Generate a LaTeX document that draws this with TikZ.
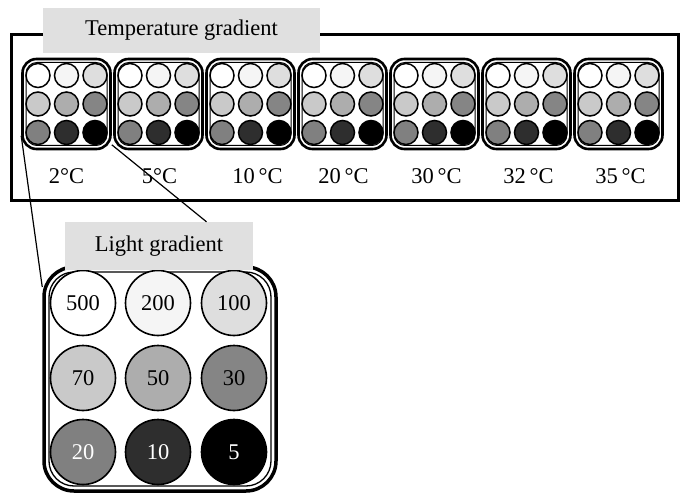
\documentclass[tikz,border=0pt]{standalone}
\usepackage{fontspec}
\setmainfont{Liberation Serif}

\definecolor{lbgray}{gray}{0.88}
\definecolor{l500}{gray}{1.00}
\definecolor{l200}{gray}{0.96}
\definecolor{l100}{gray}{0.87}
\definecolor{l70}{gray}{0.79}
\definecolor{l50}{gray}{0.68}
\definecolor{l30}{gray}{0.52}
\definecolor{l20}{gray}{0.50}
\definecolor{l10}{gray}{0.18}
\definecolor{l5}{gray}{0.00}

\begin{document}
\begin{tikzpicture}[x=1pt,y=-1pt,
    fs/.style={font=\fontsize{22.5}{27}\selectfont},
    plate/.style={draw, line width=2.6pt, rounded corners=14pt, minimum width=88pt, minimum height=90pt, inner sep=0pt},
    platein/.style={draw, line width=1pt, rounded corners=11pt, minimum width=81pt, minimum height=83pt, inner sep=0pt},
    well/.style={circle, draw, line width=1.5pt, minimum size=24pt, inner sep=0pt},
    bigwell/.style={circle, draw, line width=1.6pt, minimum size=65pt, inner sep=0pt},
    lbl/.style={fill=lbgray, inner sep=0pt}]

      \useasboundingbox (0,0) rectangle (688,497);

      % frame round the temperature series
      \node[draw, line width=3pt, minimum width=667pt, minimum height=166pt, inner sep=0pt] (frame) at (345,117.5) {};

      % one plate per temperature, nine wells each
      \foreach \i/\t/\dx in {1/{2°C}/0,2/{5°C}/1,3/{10\,°C}/7,4/{20\,°C}/1,5/{30\,°C}/2,6/{32\,°C}/2,7/{35\,°C}/2} {
        \node[plate] (plate\i) at ({66.5+92*(\i-1)},104) {};
        \node[platein] at (plate\i) {};
        \foreach \c/\r/\col in {0/0/l500,1/0/l200,2/0/l100,0/1/l70,1/1/l50,2/1/l30,0/2/l20,1/2/l10,2/2/l5}
          \node[well, fill=\col] (w\i\c\r) at ({38+92*(\i-1)+28.5*\c},{75.5+28.5*\r}) {};
        \node[fs] (t\i) at ({66.5+92*(\i-1)+\dx},176) {\t};
      }

      % enlarged plate
      \node[draw, line width=3.5pt, rounded corners=30pt, minimum width=232pt, minimum height=224pt, inner sep=0pt] (bigplate) at (160,379) {};
      \node[draw, line width=1.3pt, rounded corners=25pt, minimum width=222pt, minimum height=214pt, inner sep=0pt] at (bigplate) {};

      \begin{scope}[every node/.style={bigwell, fs}]
        \node[fill=l500]             (b00) at (83,303)  {500};
        \node[fill=l200]             (b10) at (158,303) {200};
        \node[fill=l100]             (b20) at (234,303) {100};
        \node[fill=l70]              (b01) at (83,378)  {70};
        \node[fill=l50]              (b11) at (158,378) {50};
        \node[fill=l30]              (b21) at (234,378) {30};
        \node[fill=l20, text=white]  (b02) at (83,452)  {20};
        \node[fill=l10, text=white]  (b12) at (158,452) {10};
        \node[fill=l5, text=white]   (b22) at (234,452) {5};
      \end{scope}

      % labels sit over the top borders
      \node[lbl, fs, minimum width=188pt, minimum height=48pt] (lightlbl) at (159,246) {\raisebox{2pt}{Light gradient}};
      \node[lbl, fs, minimum width=277pt, minimum height=45pt] (templbl) at (181.5,30.5) {Temperature gradient};

      % zoom lines
      \draw[line width=1.2pt] (plate1.215) -- (bigplate.142);
      \draw[line width=1.2pt] (plate1.318) -- (lightlbl.27);

\end{tikzpicture}
\end{document}
